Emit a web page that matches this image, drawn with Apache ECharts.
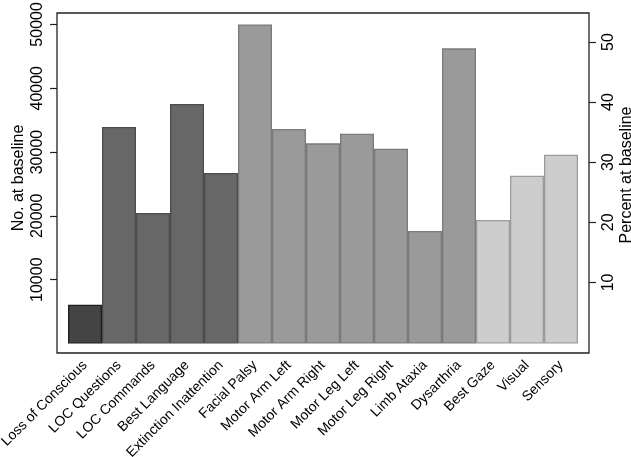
<!DOCTYPE html>
<html>
<head>
<meta charset="utf-8">
<script src="https://cdn.jsdelivr.net/npm/echarts@6/dist/echarts.min.js"></script>
<style>
  html, body { margin: 0; padding: 0; background: #fff; }
  #chart { width: 631px; height: 457px; }
</style>
</head>
<body>
<div id="chart"></div>
<script>
// NIHSS items, count at baseline
const categories = [
  'Loss of Conscious', 'LOC Questions', 'LOC Commands', 'Best Language',
  'Extinction Inattention', 'Facial Palsy', 'Motor Arm Left', 'Motor Arm Right',
  'Motor Leg Left', 'Motor Leg Right', 'Limb Ataxia', 'Dysarthria',
  'Best Gaze', 'Visual', 'Sensory'
]
const counts = [
  6080, 33930, 20450, 37540, 26720, 50000, 33620, 31360,
  32880, 30530, 17630, 46250, 19360, 26300, 29590
]
// shading group of each item
const groups = [0, 1, 1, 1, 1, 2, 2, 2, 2, 2, 2, 2, 3, 3, 3]
const countTicks = [10000, 20000, 30000, 40000, 50000]
const percentTicks = [10, 20, 30, 40, 50]

const fills = ['#444444', '#676767', '#9a9a9a', '#cdcdcd']
const borders = ['#1e1e1e', '#4c4c4c', '#7a7a7a', '#9c9c9c']
const font = 'Liberation Sans'

const chart = echarts.init(document.getElementById('chart'))
chart.setOption({
  animation: false,
  textStyle: { fontFamily: font, color: '#000' },
  grid: [
    { left: 68, right: 53, top: 13, bottom: 104, outerBoundsMode: 'none', containLabel: false },
    { left: 57, right: 42, top: 13, bottom: 104, outerBoundsMode: 'none', show: true, borderColor: '#222', borderWidth: 1.3, backgroundColor: 'transparent' }
  ],
  xAxis: {
    type: 'category',
    data: categories,
    axisLine: { show: false },
    axisTick: { alignWithLabel: true, length: 6, lineStyle: { color: '#222', width: 1.2 } },
    axisLabel: { rotate: 45, fontSize: 14, color: '#000', margin: 10, interval: 0 }
  },
  yAxis: [
    {
      type: 'value',
      min: -1490,
      max: 51790,
      offset: 11,
      name: 'No. at baseline',
      nameLocation: 'middle',
      nameGap: 30,
      nameMoveOverlap: false,
      nameTextStyle: { fontSize: 16, color: '#000', padding: [0, 0, 0, 10] },
      splitLine: { show: false },
      axisLine: { show: false },
      axisTick: { show: true, length: 7, customValues: countTicks, lineStyle: { color: '#222', width: 1.2 } },
      axisLabel: { rotate: 90, fontSize: 16, color: '#000', margin: 11, customValues: countTicks, formatter: v => String(v) }
    },
    {
      type: 'value',
      position: 'right',
      min: -1.75,
      max: 54.83,
      offset: 11,
      name: 'Percent at baseline',
      nameLocation: 'middle',
      nameRotate: 90,
      nameGap: 30,
      nameMoveOverlap: false,
      nameTextStyle: { fontSize: 16, color: '#000', padding: [0, 0, 0, 16] },
      splitLine: { show: false },
      axisLine: { show: false },
      axisTick: { show: true, length: 7, customValues: percentTicks, lineStyle: { color: '#222', width: 1.2 } },
      axisLabel: { rotate: 90, fontSize: 16, color: '#000', margin: 12, customValues: percentTicks, formatter: v => String(v) }
    }
  ],
  series: [
    {
      type: 'bar',
      barCategoryGap: '0%',
      data: counts.map((v, i) => ({
        value: v,
        itemStyle: { color: fills[groups[i]], borderColor: borders[groups[i]], borderWidth: 1.3 }
      }))
    }
  ]
})
</script>
</body>
</html>
